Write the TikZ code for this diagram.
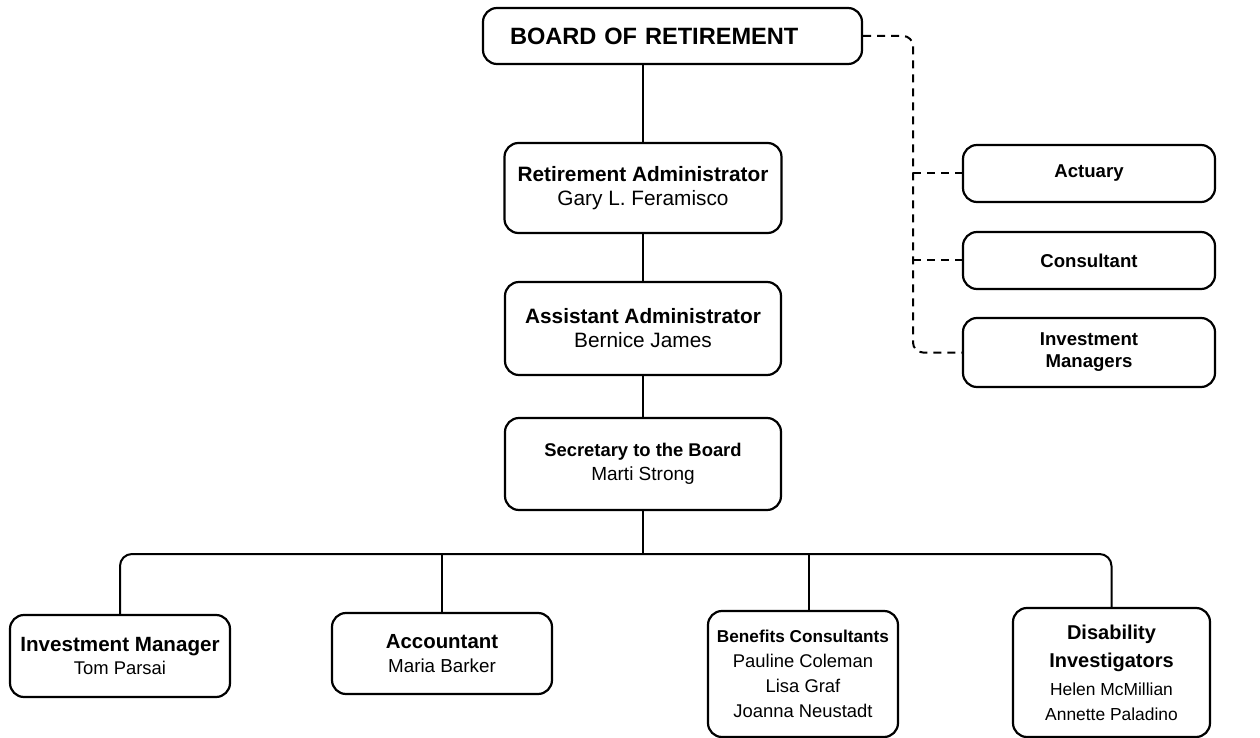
\documentclass[tikz,border=0pt]{standalone}
\usepackage{fontspec}
\setmainfont{Liberation Sans}
\usepackage{tikz}
\usetikzlibrary{calc}
\tikzset{
    org_box/.style={draw, line width=1.1pt, rounded corners=7pt, align=center, inner sep=0pt},
    solid_link/.style={line width=1pt},
    dashed_link/.style={line width=1pt, dash pattern=on 4pt off 3pt},
    side_box/.style={org_box, minimum width=126pt, font=\fontsize{9.3}{11}\selectfont\bfseries}
}

\begin{document}
\begin{tikzpicture}[x=0.5pt, y=-0.5pt]
    \useasboundingbox (0,0) rectangle (1260,738);
    % === TOP OF THE CHART ===
    \node[org_box, minimum width=189.5pt, minimum height=28pt, text width=162.5pt, inner xsep=13.5pt, align=left,
          font=\fontsize{11.8}{14}\selectfont\bfseries] (board) at (672.5,36) {BOARD OF RETIREMENT};
    \node[org_box, minimum width=138.5pt, minimum height=45pt, font=\fontsize{10.4}{12}\selectfont]
        (retadmin) at (643,188) {\textbf{Retirement Administrator}\\Gary L. Feramisco};
    \node[org_box, minimum width=138pt, minimum height=46.5pt, font=\fontsize{10.4}{12}\selectfont]
        (asstadmin) at (643,328.5) {\textbf{Assistant Administrator}\\Bernice James};
    \node[org_box, minimum width=138pt, minimum height=46pt, font=\fontsize{9.5}{12}\selectfont]
        (secretary) at (643,464) {{\fontsize{9.2}{12}\selectfont\bfseries Secretary to the Board}\\Marti Strong};
    \draw[solid_link] (retadmin.north) -- (retadmin.north |- board.south);
    \draw[solid_link] (retadmin.south) -- (asstadmin.north);
    \draw[solid_link] (asstadmin.south) -- (secretary.north);
    %
    % === OUTSIDE SERVICES ===
    \node[side_box, minimum height=28.5pt] (actuary) at (1089,173.5) {Actuary};
    \node[side_box, minimum height=28.5pt] (consultant) at (1089,260.5) {Consultant};
    \node[side_box, minimum height=34.5pt] (invmgrs) at (1089,352.5) {Investment\\Managers};
    \coordinate (trunk) at (913,36);
    \draw[dashed_link, rounded corners=5pt] (board.east) -| (trunk |- invmgrs.west) -- (invmgrs.west);
    \draw[dashed_link] (trunk |- actuary.west) -- (actuary.west);
    \draw[dashed_link] (trunk |- consultant.west) -- (consultant.west);
    %
    % === STAFF ===
    \node[org_box, minimum width=110pt, minimum height=41pt, font=\fontsize{9.2}{12}\selectfont]
        (invmgr) at (120,656) {{\fontsize{10.3}{12}\selectfont\bfseries Investment Manager}\\Tom Parsai};
    \node[org_box, minimum width=110pt, minimum height=40.5pt, font=\fontsize{9.4}{12}\selectfont]
        (accountant) at (442,653.5) {{\fontsize{10.2}{12}\selectfont\bfseries Accountant}\\Maria Barker};
    \node[org_box, minimum width=95pt, minimum height=63pt, font=\fontsize{9.2}{12.5}\selectfont]
        (benefits) at (803,674) {{\fontsize{8.6}{12.5}\selectfont\bfseries Benefits Consultants}\\Pauline Coleman\\Lisa Graf\\Joanna Neustadt};
    \node[org_box, minimum width=98.5pt, minimum height=64.5pt, font=\fontsize{8.7}{12.5}\selectfont]
        (disability) at (1111.5,672.5) {{\fontsize{10}{12.5}\selectfont\bfseries Disability}\\[1.5pt]{\fontsize{10}{12.5}\selectfont\bfseries Investigators}\\[1.5pt]Helen McMillian\\Annette Paladino};
    % bus under the secretary
    \coordinate (bus) at (643,554);
    \draw[solid_link] (secretary.south) -- (bus);
    \draw[solid_link, rounded corners=6pt] (invmgr.north) |- (bus) -| (disability.north);
    \draw[solid_link] (accountant.north) -- (accountant.north |- bus);
    \draw[solid_link] ([xshift=3pt]benefits.north) -- ([xshift=3pt]benefits.north |- bus);
\end{tikzpicture}
\end{document}
